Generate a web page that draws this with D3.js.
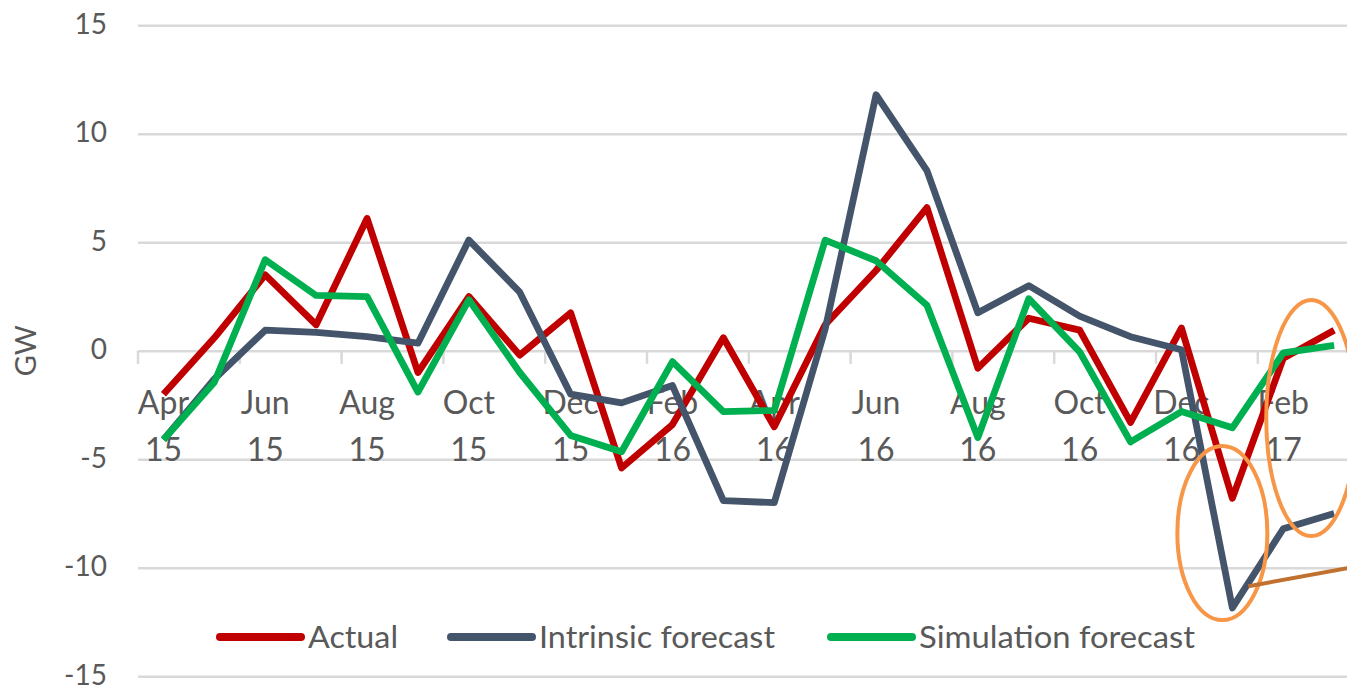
<!DOCTYPE html>
<html>
<head>
<meta charset="utf-8">
<script src="https://cdn.jsdelivr.net/npm/d3@7"></script>
<style>
  body { margin: 0; background: #fff; }
  svg { display: block; font-family: Lato, "Open Sans", sans-serif; }
  .grid line { stroke: #d9d9d9; stroke-width: 2.5; }
  .grid path { display: none; }
  .tick text { fill: #595959; }
</style>
</head>
<body>
<svg class="chart"></svg>
<script>
var months = ['Apr 15', 'May 15', 'Jun 15', 'Jul 15', 'Aug 15', 'Sep 15', 'Oct 15', 'Nov 15', 'Dec 15',
              'Jan 16', 'Feb 16', 'Mar 16', 'Apr 16', 'May 16', 'Jun 16', 'Jul 16', 'Aug 16', 'Sep 16',
              'Oct 16', 'Nov 16', 'Dec 16', 'Jan 17', 'Feb 17', 'Mar 17']

var actual    = [-2.0, 0.6, 3.5, 1.2, 6.1, -1.0, 2.5, -0.2, 1.75, -5.4, -3.4, 0.6,
                 -3.5, 1.2, 3.7, 6.6, -0.8, 1.5, 0.95, -3.3, 1.05, -6.8, -0.35, 0.95]
var intrinsic = [-4.1, -1.3, 0.95, 0.85, 0.65, 0.35, 5.1, 2.7, -2.0, -2.4, -1.6, -6.9,
                 -7.0, 1.0, 11.8, 8.3, 1.75, 3.0, 1.6, 0.65, 0.05, -11.85, -8.2, -7.5]
var simulation = [-4.1, -1.45, 4.2, 2.55, 2.5, -1.9, 2.35, -1.0, -3.9, -4.65, -0.5, -2.8,
                  -2.75, 5.1, 4.15, 2.1, -4.0, 2.4, -0.05, -4.2, -2.8, -3.55, -0.1, 0.25]

var yTicks = [-15, -10, -5, 0, 5, 10, 15]

var series = [
  { name: 'Actual', values: actual, color: '#c00000', legendWidth: 90 },
  { name: 'Intrinsic forecast', values: intrinsic, color: '#44546a', legendWidth: 236 },
  { name: 'Simulation forecast', values: simulation, color: '#00b050', legendWidth: 276 }
]

var width = 1347, height = 690;

var svg = d3.select(".chart")
    .attr("width", width)
    .attr("height", height);

var x = d3.scaleBand()
    .domain(months)
    .range([138, 1359.6]);

var y = d3.scaleLinear()
    .domain([-15, 15])
    .range([676.3, 25.3]);

function xc(m) { return x(m) + x.bandwidth() / 2; }

// horizontal grid
svg.append("g")
    .attr("class", "grid")
    .attr("transform", "translate(138,0)")
    .call(d3.axisLeft(y).tickValues(yTicks).tickSize(-(1359.6 - 138)).tickFormat(""));

// y labels
svg.append("g")
    .selectAll("text")
    .data(yTicks)
  .enter().append("text")
    .attr("x", 107)
    .attr("y", function(d) { return y(d); })
    .attr("dy", "0.3em")
    .attr("text-anchor", "end")
    .attr("fill", "#595959")
    .style("font-size", "28px")
    .text(function(d) { return d; });

svg.append("text")
    .attr("transform", "translate(36," + y(0) + ") rotate(-90)")
    .attr("text-anchor", "middle")
    .attr("fill", "#595959")
    .style("font-size", "29px")
    .text("GW");

// category tick marks on the zero line, every two months
var tickMonths = months.filter(function(d, i) { return i % 2 == 0; });
svg.append("g")
    .selectAll("line")
    .data(tickMonths)
  .enter().append("line")
    .attr("x1", function(d) { return x(d); })
    .attr("x2", function(d) { return x(d); })
    .attr("y1", y(0))
    .attr("y2", y(0) + 13)
    .attr("stroke", "#d9d9d9")
    .attr("stroke-width", 2.5);

// x labels, two lines each
var xl = svg.append("g")
    .selectAll("text")
    .data(tickMonths)
  .enter().append("text")
    .attr("text-anchor", "middle")
    .attr("fill", "#595959")
    .style("font-size", "32px");

xl.append("tspan")
    .attr("x", function(d) { return xc(d); })
    .attr("y", y(0) + 63)
    .text(function(d) { return d.split(" ")[0]; });
xl.append("tspan")
    .attr("x", function(d) { return xc(d); })
    .attr("y", y(0) + 110)
    .text(function(d) { return d.split(" ")[1]; });

// lines
var line = d3.line()
    .x(function(d, i) { return xc(months[i]); })
    .y(function(d) { return y(d); });

svg.append("g")
    .selectAll("path")
    .data(series)
  .enter().append("path")
    .attr("d", function(d) { return line(d.values); })
    .attr("fill", "none")
    .attr("stroke", function(d) { return d.color; })
    .attr("stroke-width", 6.8)
    .attr("stroke-linejoin", "round")
    .attr("stroke-linecap", "butt");

// legend
var legendX = [220, 451, 831];
var lg = svg.append("g")
    .selectAll("g")
    .data(series)
  .enter().append("g")
    .attr("transform", function(d, i) { return "translate(" + legendX[i] + ",637)"; });

lg.append("line")
    .attr("x1", 0).attr("x2", 81)
    .attr("stroke", function(d) { return d.color; })
    .attr("stroke-width", 8)
    .attr("stroke-linecap", "round");

lg.append("text")
    .attr("x", 88)
    .attr("dy", "0.36em")
    .attr("fill", "#595959")
    .style("font-size", "31px")
    .attr("textLength", function(d) { return d.legendWidth; })
    .attr("lengthAdjust", "spacingAndGlyphs")
    .text(function(d) { return d.name; });

// orange annotations
var notes = svg.append("g").attr("fill", "none");
notes.append("ellipse")
    .attr("cx", xc("Jan 17") - 10)
    .attr("cy", y(-8.4))
    .attr("rx", 45)
    .attr("ry", 87)
    .attr("stroke", "#f79646")
    .attr("stroke-width", 4);
notes.append("ellipse")
    .attr("cx", xc("Feb 17") + 28)
    .attr("cy", y(-3.1))
    .attr("rx", 45)
    .attr("ry", 118)
    .attr("stroke", "#f79646")
    .attr("stroke-width", 4);
notes.append("line")
    .attr("x1", xc("Jan 17") + 16)
    .attr("y1", y(-10.85))
    .attr("x2", width + 2)
    .attr("y2", y(-10.0))
    .attr("stroke", "#c0702f")
    .attr("stroke-width", 4);
</script>
</body>
</html>
